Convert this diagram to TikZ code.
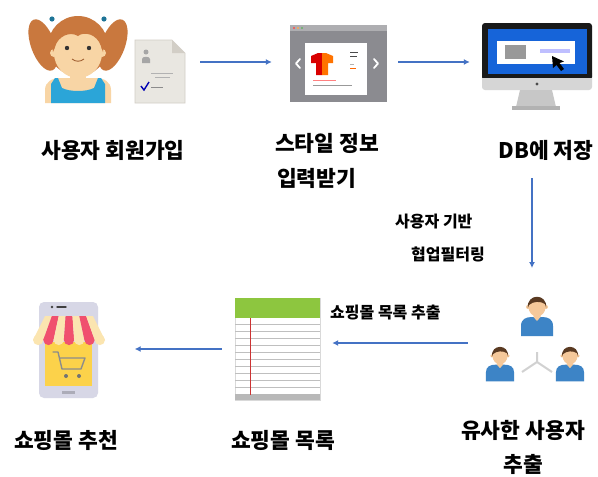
\documentclass[tikz,border=0pt]{standalone}
\usepackage{fontspec}
\setmainfont{Noto Sans CJK KR}[BoldFont={* Black}]
\usetikzlibrary{arrows.meta}
\definecolor{flowblue}{RGB}{68,114,196}
\definecolor{hair}{RGB}{201,120,62}
\definecolor{skin}{RGB}{248,213,165}
\definecolor{dress}{RGB}{43,165,216}
\definecolor{paper}{RGB}{233,231,225}
\definecolor{paperedge}{RGB}{210,206,198}
\definecolor{frame}{RGB}{139,139,144}
\definecolor{screen}{RGB}{22,100,217}
\definecolor{silver}{RGB}{214,214,214}
\definecolor{darkhair}{RGB}{90,58,34}
\definecolor{face}{RGB}{245,200,154}
\definecolor{shirt}{RGB}{61,132,198}
\definecolor{leaf}{RGB}{141,198,63}
\definecolor{awnpink}{RGB}{240,80,110}
\definecolor{awncream}{RGB}{251,229,176}
\definecolor{phone}{RGB}{215,215,230}
\definecolor{shopyellow}{RGB}{252,210,74}
\tikzset{
  flow/.style={draw=flowblue, line width=1.8pt, -{Latex[length=6pt,width=6pt]}},
  biglabel/.style={font=\bfseries\fontsize{21.5}{24}\selectfont, inner sep=0pt},
  smalllabel/.style={font=\bfseries\fontsize{16}{19}\selectfont, inner sep=0pt},
  iconbox/.style={draw=none, inner sep=0pt},
  pics/person/.style={code={
    \fill[shirt] (-16,30) -- (-16,20) .. controls (-16,13) and (-11,11) .. (-5,11)
      -- (5,11) .. controls (11,11) and (16,13) .. (16,20) -- (16,30) -- cycle;
    \fill[face] (-3.5,6) -- (3.5,6) -- (3.5,11) -- (0,15) -- (-3.5,11) -- cycle;
    \fill[face] (-9,1) circle (2pt) (9,1) circle (2pt);
    \fill[face] (0,1) ellipse (8.5pt and 9.5pt);
    \fill[darkhair] (-9.2,2) .. controls (-10.5,-13) and (10.5,-13) .. (9.2,2)
      -- (8,-2) .. controls (4,-5) and (-4,-5) .. (-8,-1) -- cycle;
  }}
}
\begin{document}
\begin{tikzpicture}[x=1pt,y=-1pt]
\useasboundingbox[fill=white] (0,0) rectangle (598,477);

% ---------- girl (new member) ----------
\begin{scope}
  \fill[hair, rotate around={20:(43,45)}] (43,45) ellipse (12pt and 27pt);
  \fill[hair, rotate around={-20:(113,45)}] (113,45) ellipse (12pt and 27pt);
  \fill[dress!70!black] (52,19) circle (2.6pt) (104,19) circle (2.6pt);
  \fill[hair] (78,46) circle (30pt);
  \fill[skin] (45,103) -- (45,90) .. controls (45,82) and (52,78) .. (60,78)
    -- (96,78) .. controls (104,78) and (111,82) .. (111,90) -- (111,103) -- cycle;
  \fill[skin] (70,68) rectangle (86,82);
  \fill[dress] (51,103) -- (51,84) -- (55,78) -- (58,78) -- (62,88)
    .. controls (70,92) and (86,92) .. (94,88) -- (98,78) -- (101,78) -- (105,84) -- (105,103) -- cycle;
  \fill[skin] (54,53) circle (4pt) (102,53) circle (4pt);
  \fill[skin] (78,53) ellipse (24pt and 25pt);
  \fill[hair] (53,52) .. controls (50,18) and (106,18) .. (103,52)
    -- (101,46) .. controls (97,34) and (84,31) .. (78,36)
    .. controls (70,31) and (58,36) .. (55,47) -- cycle;
  \fill[black!80] (67,48) circle (2.2pt) (89,48) circle (2.2pt);
  \draw[hair!80!black, line width=0.9pt] (72,59) .. controls (76,62) and (80,62) .. (84,59);
\end{scope}

% ---------- sign-up form ----------
\node[iconbox, minimum width=50pt, minimum height=63pt] (doc) at (160,71.5) {};
\fill[paper, draw=paperedge, line width=0.6pt] (135,40) -- (172,40) -- (185,53) -- (185,103) -- (135,103) -- cycle;
\fill[paperedge] (172,40) -- (172,53) -- (185,53) -- cycle;
\fill[black!35] (146,52) circle (2.5pt);
\fill[black!35] (142,63) -- (142,59) .. controls (142,56) and (150,56) .. (150,59) -- (150,63) -- cycle;
\draw[black!30, line width=0.8pt] (151,73) -- (173,73) (155,77) -- (170,77);
\draw[blue!70!black, line width=1.4pt] (141,86) -- (144,90) -- (149,82);
\draw[black!45, line width=0.9pt] (151,87) -- (163,87);

% ---------- style entry window ----------
\node[iconbox, minimum width=97pt, minimum height=77pt] (win) at (338.5,63.5) {};
\fill[frame] (290,25) rectangle (387,102);
\fill[frame!70!white] (290,25) rectangle (387,31);
\fill[red!70] (294,28) circle (1.2pt);
\fill[orange!70] (298,28) circle (1.2pt);
\fill[green!50!black!60] (302,28) circle (1.2pt);
\fill[white] (305,43) rectangle (367,95);
\fill[red!85!black] (311,56) -- (318,53) -- (322,53) -- (322,75) -- (316,75) -- (316,63) -- (311,63) -- cycle;
\fill[orange!90!red] (322,53) -- (326,53) -- (333,56) -- (333,63) -- (328,63) -- (328,75) -- (322,75) -- cycle;
\draw[black!70, line width=1pt] (350,52) -- (358,52) (350,56) -- (357,56);
\draw[black!30, line width=1pt] (350,64) -- (354,64);
\draw[orange!80!red, line width=1pt] (350,68) -- (356,68);
\draw[red!50, line width=0.8pt] (313,80) -- (336,80);
\draw[black!40, line width=0.8pt] (313,85) -- (352,85);
\draw[white, line width=1.8pt, line cap=round, line join=round] (300,59) -- (296,63.5) -- (300,68);
\draw[white, line width=1.8pt, line cap=round, line join=round] (374,59) -- (378,63.5) -- (374,68);

% ---------- database monitor ----------
\node[iconbox, minimum width=110pt, minimum height=87pt] (mon) at (537,66.5) {};
\fill[silver, rounded corners=3pt] (482,70) rectangle (592,90);
\fill[black!90, rounded corners=3pt] (482,23) rectangle (592,80);
\fill[silver] (482,78) rectangle (592,84);
\fill[black!70] (537,84) circle (1.6pt);
\fill[screen] (488,29) rectangle (587,74);
\fill[white] (497,41) rectangle (575,64);
\fill[black!40] (505,45) rectangle (526,59);
\fill[blue!25] (540,49) rectangle (570,53);
\fill[black] (552,56) -- (553,68) -- (556.5,65) -- (561,71) -- (564,69) -- (559.5,63) -- (564,61.5) -- cycle;
\fill[black!22] (520,90) -- (552,90) -- (556,107) -- (516,107) -- cycle;
\fill[black!30] (512,106) rectangle (560,110);

% ---------- similar users ----------
\node[iconbox, minimum width=100pt, minimum height=90pt] (users) at (535,336) {};
\draw[black!18, line width=2pt] (537,352) -- (537,362) -- (522,372) (537,362) -- (552,372);
\pic at (537,306) {person};
\pic[scale=0.88] at (500,355) {person};
\pic[scale=0.88] at (570,355) {person};

% ---------- shopping list ----------
\node[iconbox, minimum width=85pt, minimum height=102pt] (list) at (277.5,349) {};
\fill[white, draw=black!15] (235,298) rectangle (320,400);
\foreach \yy in {324,331,...,391} \draw[black!25, line width=0.8pt] (235,\yy) -- (320,\yy);
\fill[leaf] (235,298) rectangle (320,318);
\fill[black!28] (235,394) rectangle (320,400);
\draw[red!75!black!80, line width=1pt] (250,318) -- (250,395);

% ---------- shop recommendation ----------
\node[iconbox, minimum width=72pt, minimum height=96pt] (shop) at (68.5,350) {};
\fill[phone, rounded corners=5pt] (39,302) rectangle (98,398);
\fill[black!75] (52,307) circle (1.4pt);
\draw[black!75, line width=1.4pt, line cap=round] (57,307) -- (66,307);
\fill[shopyellow] (45,342) rectangle (92,386);
\foreach \i in {0,...,6}{
  \pgfmathsetmacro{\ta}{45+\i*48/7}
  \pgfmathsetmacro{\tb}{45+(\i+1)*48/7}
  \pgfmathsetmacro{\ba}{33+\i*72/7}
  \pgfmathsetmacro{\bb}{33+(\i+1)*72/7}
  \pgfmathsetmacro{\bm}{33+(\i+0.5)*72/7}
  \ifodd\i
    \fill[awnpink] (\ta,316) -- (\tb,316) -- (\bb,340) -- (\ba,340) -- cycle;
    \fill[awnpink] (\bm,340) circle (5.1pt);
  \else
    \fill[awncream] (\ta,316) -- (\tb,316) -- (\bb,340) -- (\ba,340) -- cycle;
    \fill[awncream] (\bm,340) circle (5.1pt);
  \fi
}
\draw[black!45, line width=1.4pt, line join=round, line cap=round]
  (53,352) -- (58,352) -- (62,369) -- (81,369) -- (85,358) -- (60,358);
\fill[black!55] (66,376) circle (2pt) (79,376) circle (2pt);
\fill[phone!80!black] (62,391) rectangle (75,394);

% ---------- labels ----------
\node[biglabel] (l1) at (113,150) {사용자 회원가입};
\node[biglabel, anchor=west] (l2a) at (275,143) {스타일 정보};
\node[biglabel, anchor=west] (l2b) at (277,178) {입력받기};
\node[biglabel] (l3) at (546,150) {DB에 저장};
\node[smalllabel, anchor=west] (e1a) at (395,222) {사용자 기반};
\node[smalllabel, anchor=west] (e1b) at (411,254) {협업필터링};
\node[smalllabel, anchor=west] (e2) at (330,313) {쇼핑몰 목록 추출};
\node[biglabel] (l4a) at (523,430) {유사한 사용자};
\node[biglabel] (l4b) at (523,464) {추출};
\node[biglabel] (l5) at (283,440) {쇼핑몰 목록};
\node[biglabel] (l6) at (66,440) {쇼핑몰 추천};

% ---------- flow arrows ----------
\coordinate (downtop) at (532,178);
\coordinate (downend) at (532,268);
\draw[flow, shorten <=15pt, shorten >=18pt] (doc.east |- 0,62) -- (win.west |- 0,62);
\draw[flow, shorten <=11pt, shorten >=12pt] (win.east |- 0,62) -- (mon.west |- 0,62);
\draw[flow] (downtop) -- (downend);
\draw[flow, shorten <=17pt, shorten >=12pt] (users.west |- 0,343) -- (list.east |- 0,343);
\draw[flow, shorten <=13pt, shorten >=30pt] (list.west |- 0,349) -- (shop.east |- 0,349);
\end{tikzpicture}
\end{document}
